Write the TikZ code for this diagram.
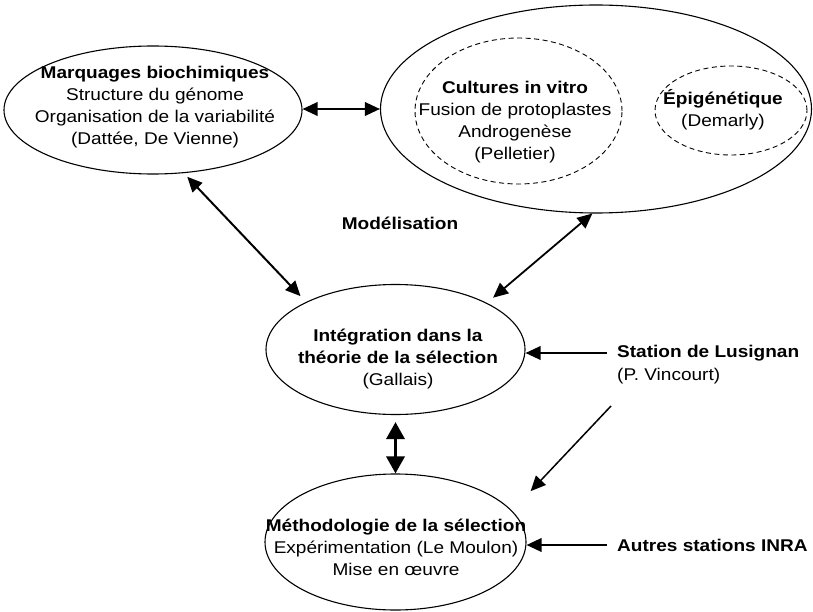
\documentclass[tikz,border=0pt]{standalone}
\usepackage{fontspec}
\setmainfont[FakeStretch=1.12]{Liberation Sans}
\usetikzlibrary{shapes.geometric,arrows.meta}
\begin{document}
\begin{tikzpicture}[x=1pt,y=-1pt,
  ell/.style={draw, ellipse, line width=1.1pt, inner sep=0pt},
  dell/.style={ell, line width=0.9pt, dash pattern=on 5pt off 3.5pt},
  txt/.style={align=center, font=\fontsize{17}{22}\selectfont, inner sep=0pt},
  ltxt/.style={align=left, anchor=west, font=\fontsize{17}{22}\selectfont, inner sep=0pt},
  tip/.tip={Triangle[length=15pt,width=13.5pt]},
  arr/.style={line width=2pt, -tip},
  darr/.style={line width=2pt, tip-tip},
  varr/.style={line width=3.3pt, {Triangle[length=17pt,width=18pt]}-{Triangle[length=17pt,width=18pt]}}
]
\useasboundingbox (0,0) rectangle (813,612);

% ellipses
\node[ell, minimum width=298pt, minimum height=128pt] (marq) at (153,110) {};
\node[ell, minimum width=431pt, minimum height=208pt] (big) at (596,109) {};
\node[dell, minimum width=207pt, minimum height=146pt] (cult) at (518.5,111) {};
\node[dell, minimum width=152pt, minimum height=89pt] (epi) at (731,110.5) {};
\node[ell, minimum width=259pt, minimum height=130pt] (integ) at (395.5,349.5) {};
\node[ell, minimum width=261pt, minimum height=136pt] (meth) at (395.5,542) {};

% texts
\node[txt] (marqt) at (155,107) {\textbf{Marquages biochimiques}\\Structure du génome\\Organisation de la variabilité\\(Dattée, De Vienne)};
\node[txt] (cultt) at (515,122) {\textbf{Cultures in vitro}\\Fusion de protoplastes\\Androgenèse\\(Pelletier)};
\node[txt] (epit) at (723,110) {\textbf{Épigénétique}\\(Demarly)};
\node[txt] (modt) at (400,223) {\textbf{Modélisation}};
\node[txt] (integt) at (398,359) {\textbf{Intégration dans la}\\\textbf{théorie de la sélection}\\(Gallais)};
\node[txt] (metht) at (396,547.5) {\textbf{Méthodologie de la sélection}\\Expérimentation (Le Moulon)\\Mise en œuvre};
\node[ltxt] (lus) at (617,353) {\textbf{Station de Lusignan}};
\node[ltxt] (vinc) at (617,376) {(P. Vincourt)};
\node[ltxt] (aut) at (617,545) {\textbf{Autres stations INRA}};
\coordinate (vst) at (611,406);

% connectors
\draw[darr] (big.west -| marq.east) -- (big.west);
\draw[darr, shorten <=5pt, shorten >=8pt] (marq.-64) -- (integ.152.6);
\draw[darr, line width=1.8pt, shorten >=8pt] (big.-92) -- (integ.27.4);
\draw[arr] ([xshift=-10pt]lus.west) -- (lus.west -| integ.east);
\draw[arr, line width=1.5pt, shorten >=27pt] (vst) -- (meth.15.4);
\draw[varr, shorten <=7pt] (integ.south) -- (meth.north);
\draw[arr] ([xshift=-10pt]aut.west) -- (aut.west -| meth.east);
\end{tikzpicture}
\end{document}
